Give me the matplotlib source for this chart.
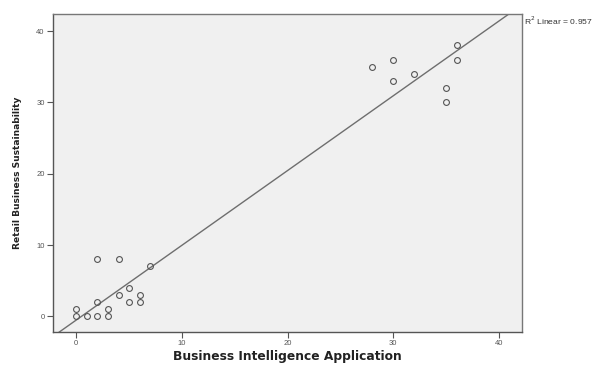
import numpy as np
import matplotlib
matplotlib.use("Agg")
import matplotlib.pyplot as plt

plt.rcParams["font.family"] = ["Liberation Sans", "DejaVu Sans"]

# Business Intelligence Application (x) vs Retail Business Sustainability (y)
bi_app = [0, 0, 1, 2, 3, 3, 2, 2, 4, 4, 5, 5, 6, 6, 7,
          28, 30, 30, 32, 35, 35, 36, 36]
retail_sus = [0, 1, 0, 0, 0, 1, 2, 8, 8, 3, 4, 2, 2, 3, 7,
              35, 36, 33, 34, 32, 30, 38, 36]
x_ticks = [0, 10, 20, 30, 40]
y_ticks = [0, 10, 20, 30, 40]

x = np.array(bi_app, dtype=float)
y = np.array(retail_sus, dtype=float)

# 線形回帰
slope, intercept = np.polyfit(x, y, 1)
r2 = np.corrcoef(x, y)[0, 1] ** 2

fig = plt.figure(figsize=(5.97, 3.65), dpi=100)
ax = fig.add_axes([0.0888, 0.0904, 0.7856, 0.8712])
ax.set_facecolor("#f0f0f0")

ax.set_xlim(-2.2, 42.2)
ax.set_ylim(-2.2, 42.4)

xs = np.array(ax.get_xlim())
ax.plot(xs, slope * xs + intercept, color="#6e6e6e", linewidth=1.0, zorder=2)

ax.plot(x, y, linestyle="none", marker="o", markersize=4.2,
        markerfacecolor="none", markeredgecolor="#555555",
        markeredgewidth=0.8, zorder=3)

ax.set_xticks(x_ticks)
ax.set_yticks(y_ticks)
ax.tick_params(axis="both", direction="out", length=4, width=0.8,
               color="#555555", labelsize=5.5, labelcolor="#555555", pad=2)

for s in ax.spines.values():
    s.set_color("#777777")
    s.set_linewidth(1.0)
ax.spines["left"].set_color("#555555")
ax.spines["bottom"].set_color("#555555")

ax.set_xlabel("Business Intelligence Application", fontsize=8.8,
              fontweight="bold", color="#222222", labelpad=2,
              family="DejaVu Sans")
ax.set_ylabel("Retail Business Sustainability", fontsize=6.6,
              fontweight="bold", color="#222222", labelpad=10,
              family="DejaVu Sans")

fig.text(0.877, 0.942, f"R$^2$ Linear = {r2:.3f}", fontsize=6.1,
         color="#333333", ha="left", va="center")

fig.savefig("out.png", dpi=100)
